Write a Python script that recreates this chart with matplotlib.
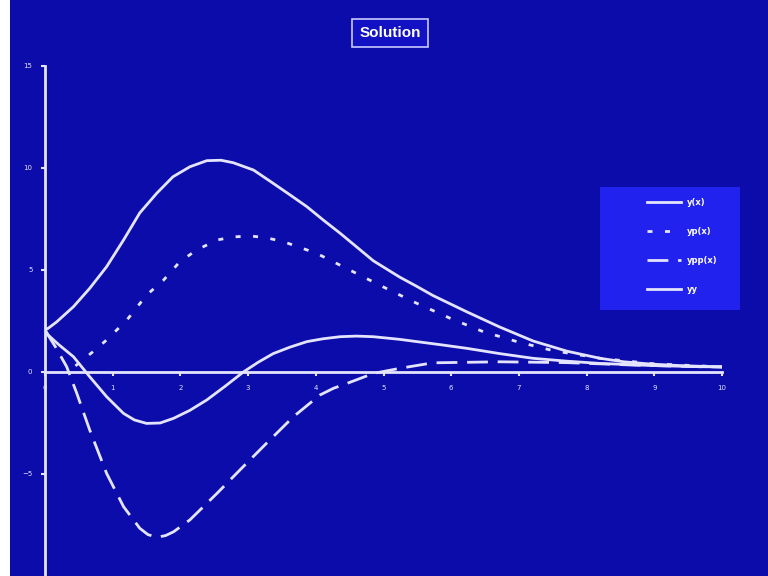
import matplotlib.pyplot as plt
from matplotlib.patches import Rectangle

# solution curves, sampled by hand
x_y = [0.0, 0.05, 0.17, 0.42, 0.66, 0.91, 1.16, 1.40, 1.65, 1.89, 2.14, 2.39,
       2.60, 2.78, 3.08, 3.37, 3.62, 3.87, 4.11, 4.36, 4.60, 4.85, 5.24, 5.49,
       5.73, 6.23, 6.72, 7.21, 7.71, 8.20, 8.55, 8.94, 9.40, 9.87, 10.0]
y = [2.05, 2.15, 2.45, 3.2, 4.1, 5.16, 6.47, 7.8, 8.76, 9.57, 10.06, 10.36,
     10.38, 10.26, 9.9, 9.25, 8.68, 8.1, 7.45, 6.8, 6.14, 5.45, 4.65, 4.2,
     3.75, 2.95, 2.2, 1.52, 1.02, 0.67, 0.5, 0.39, 0.31, 0.26, 0.25]

x_yp = [0.45, 0.71, 0.91, 1.21, 1.50, 1.75, 1.99, 2.24, 2.54, 2.78, 3.03, 3.27,
        3.52, 4.01, 4.50, 4.99, 5.49, 5.98, 6.47, 6.97, 7.50, 8.20, 9.00, 10.0]
yp = [0.3, 1.0, 1.57, 2.55, 3.77, 4.5, 5.4, 5.98, 6.47, 6.62, 6.67, 6.58,
      6.39, 5.82, 5.0, 4.18, 3.37, 2.64, 1.98, 1.49, 1.05, 0.67, 0.4, 0.25]

x_ypp = [0.0, 0.16, 0.32, 0.47, 0.66, 0.91, 1.16, 1.40, 1.52, 1.65, 1.78, 1.90,
         2.14, 2.54, 2.88, 3.27, 3.67, 4.06, 4.26, 4.46, 4.85, 5.24, 5.73,
         6.72, 7.70, 8.69, 9.67, 10.0]
ypp = [2.05, 1.2, 0.26, -1.05, -2.84, -4.97, -6.6, -7.66, -7.97, -8.1, -8.02, -7.83,
       -7.25, -5.95, -4.8, -3.5, -2.19, -1.13, -0.8, -0.56, -0.07, 0.18, 0.45,
       0.5, 0.46, 0.34, 0.26, 0.25]

x_yy = [0.0, 0.05, 0.20, 0.42, 0.66, 0.91, 1.16, 1.32, 1.50, 1.70, 1.90, 2.14,
        2.39, 2.66, 2.93, 3.15, 3.37, 3.62, 3.87, 4.11, 4.36, 4.60, 4.85, 5.24,
        5.49, 5.86, 6.23, 6.72, 7.21, 7.71, 8.20, 8.94, 9.67, 10.0]
yy = [2.05, 1.8, 1.35, 0.75, -0.23, -1.21, -2.03, -2.35, -2.52, -2.5, -2.27, -1.88,
      -1.37, -0.7, 0.0, 0.48, 0.9, 1.22, 1.49, 1.63, 1.73, 1.76, 1.73, 1.6,
      1.49, 1.33, 1.16, 0.9, 0.67, 0.53, 0.42, 0.32, 0.26, 0.25]

labels = ['y(x)', 'yp(x)', 'ypp(x)', 'yy']

bg = '#0c0cab'
fg = '#e4e4ff'

fig = plt.figure(figsize=(7.68, 5.76), dpi=100, facecolor=bg)
fig.patches.append(Rectangle((0, 0), 10 / 768, 1, transform=fig.transFigure,
                             facecolor='white', edgecolor='none'))

ax = fig.add_axes([45 / 768, 0, 677 / 768, 510 / 576])
ax.set_facecolor(bg)
ax.patch.set_visible(False)

lw = 2.0
style = dict(color=fg, lw=lw, solid_joinstyle='round', dash_joinstyle='round')
h1, = ax.plot(x_y, y, **style)
h2, = ax.plot(x_yp, yp, linestyle=(0, (1.8, 4.5)), **style)
h3, = ax.plot(x_ypp, ypp, linestyle=(0, (7.5, 3.5)), **style)
h4, = ax.plot(x_yy, yy, **style)

ax.set_xlim(0, 10)
ax.set_ylim(-10, 15)
ax.set_xticks(range(0, 11))
ax.set_yticks([-5, 0, 5, 10, 15])

for s in ['top', 'right']:
    ax.spines[s].set_visible(False)
ax.spines['bottom'].set_position(('data', 0))
ax.spines['left'].set_position(('data', 0))
for s in ['bottom', 'left']:
    ax.spines[s].set_color(fg)
    ax.spines[s].set_linewidth(2)
ax.tick_params(colors=fg, labelsize=5, length=3, width=1.5, pad=6)
ax.tick_params(axis='x', direction='out')

# title box
fig.text(390 / 768, 1 - 33 / 576, 'Solution', color='white', fontsize=11,
         fontweight='bold', family='Liberation Sans', ha='center', va='center',
         bbox=dict(boxstyle='square,pad=0.45', facecolor='#1212c4',
                   edgecolor='#c8c8ff', linewidth=1.2))

# legend panel
fig.patches.append(Rectangle((600 / 768, 1 - 310 / 576), 140 / 768, 123 / 576,
                             transform=fig.transFigure, facecolor='#2222ee',
                             edgecolor='none'))
leg = fig.legend([h1, h2, h3, h4], labels, loc='upper left',
                 bbox_to_anchor=(643 / 768, 1 - 194 / 576), frameon=False,
                 fontsize=6, handlelength=4, handletextpad=0.8,
                 labelspacing=2.4, borderpad=0, labelcolor='white')
for t in leg.get_texts():
    t.set_fontweight('bold')

fig.savefig('out.png', dpi=100, facecolor=bg)
